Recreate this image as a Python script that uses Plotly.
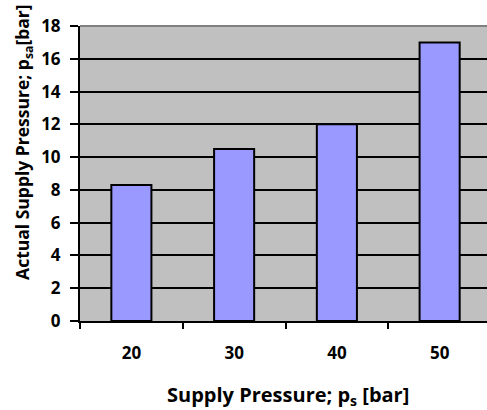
import plotly.graph_objects as go

# Supply pressure settings and the measured actual supply pressure
categories = ["20", "30", "40", "50"]
actual_pressure = [8.3, 10.5, 12.0, 17.0]
y_ticks = [0, 2, 4, 6, 8, 10, 12, 14, 16, 18]

x_title = "<b>Supply Pressure; p<sub>s</sub> [bar]</b>"
y_title = "<b>Actual Supply Pressure; p<sub>sa</sub>[bar]</b>"

FONT = "Open Sans"
TICK_FONT = dict(family=FONT, size=17, color="#000000", weight="bold")

fig = go.Figure(
    go.Bar(
        x=categories,
        y=actual_pressure,
        width=0.39,
        marker=dict(color="#9999FF", line=dict(color="#000000", width=2)),
    )
)

fig.update_layout(
    width=487,
    height=410,
    margin=dict(l=80, r=0, t=26, b=89),
    paper_bgcolor="#FFFFFF",
    plot_bgcolor="#C0C0C0",
    showlegend=False,
    font=dict(family=FONT, size=17, color="#000000"),
    xaxis=dict(
        type="category",
        range=[-0.5, 3.461],
        tickson="boundaries",
        ticks="outside",
        ticklen=6,
        tickwidth=2,
        tickcolor="#000000",
        ticklabelstandoff=16,
        showline=True,
        linecolor="#000000",
        linewidth=2,
        showgrid=False,
        tickfont=TICK_FONT,
    ),
    yaxis=dict(
        range=[0, 18],
        tickvals=y_ticks,
        ticks="outside",
        ticklen=8,
        tickwidth=2,
        tickcolor="#000000",
        ticklabelstandoff=6,
        showline=True,
        linecolor="#000000",
        linewidth=2,
        showgrid=True,
        gridcolor="#000000",
        gridwidth=2,
        zeroline=False,
        tickfont=TICK_FONT,
    ),
    shapes=[
        dict(
            type="line", xref="paper", yref="paper",
            x0=0, x1=1, y0=1, y1=1,
            line=dict(color="#808080", width=2),
        )
    ],
    annotations=[
        dict(
            text=x_title, xref="paper", yref="paper",
            x=0.511, y=-0.254, xanchor="center", yanchor="middle",
            showarrow=False, font=dict(family=FONT, size=20, color="#000000"),
        ),
        dict(
            text=y_title, xref="paper", yref="paper",
            x=-0.1376, y=0.607, xanchor="center", yanchor="middle",
            textangle=-90, showarrow=False,
            font=dict(family=FONT, size=17.5, color="#000000"),
        ),
    ],
)

fig.write_html("out.html")
